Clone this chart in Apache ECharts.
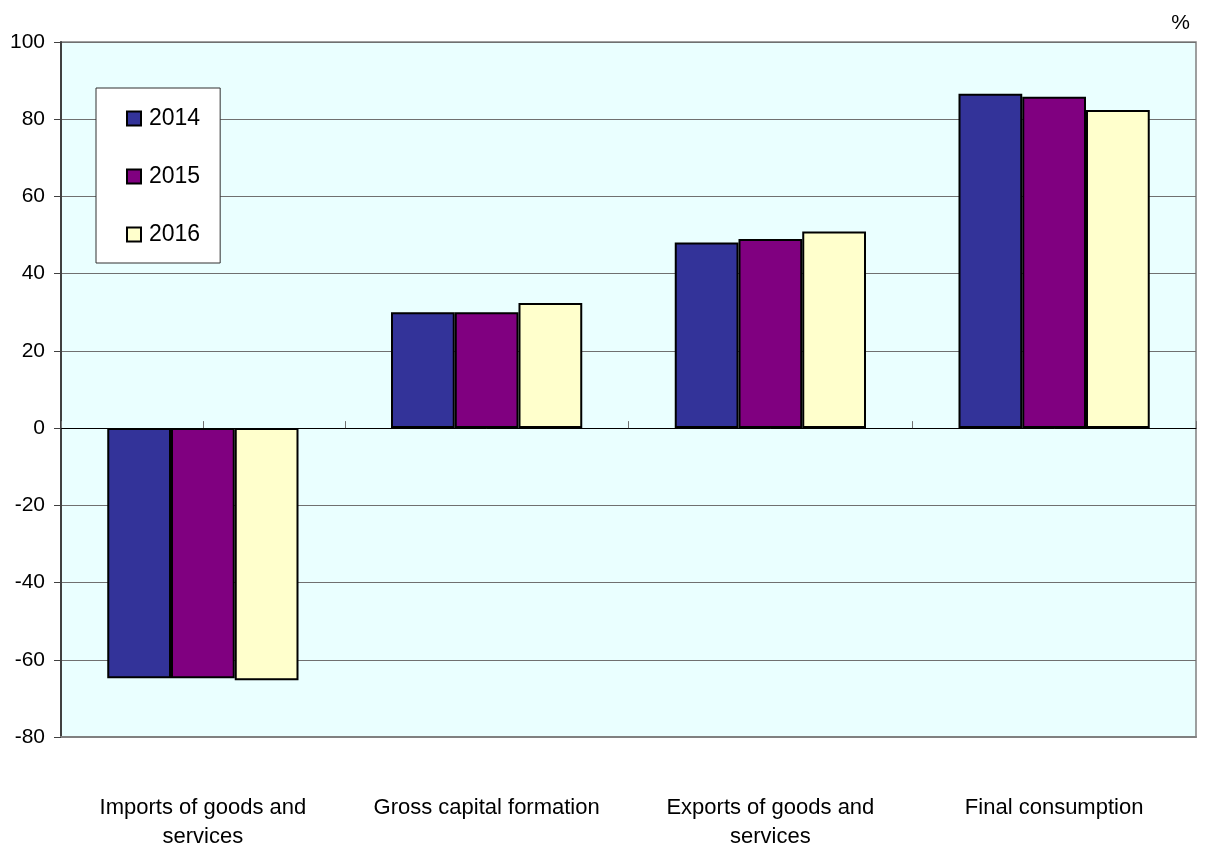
<!DOCTYPE html>
<html>
<head>
<meta charset="utf-8">
<script src="https://cdn.jsdelivr.net/npm/echarts@6/dist/echarts.min.js"></script>
<style>
html,body{margin:0;padding:0;background:#fff;}
#chart{width:1205px;height:851px;}
</style>
</head>
<body>
<div id="chart"></div>
<script>
const categories = ['Imports of goods and\nservices', 'Gross capital formation', 'Exports of goods and\nservices', 'Final consumption'];
const years = ['2014', '2015', '2016'];
const values2014 = [-64.8, 30.0, 48.1, 86.6];
const values2015 = [-64.8, 30.0, 49.0, 85.8];
const values2016 = [-65.3, 32.4, 50.9, 82.4];
const tickSlots = ['', '', '', '', '', '', '', ''];
const yMin = -80, yMax = 100, yStep = 20;

const colors = ['#333399', '#800080', '#FFFFCC'];
const seriesValues = [values2014, values2015, values2016];
const font = 'Liberation Sans';

const chart = echarts.init(document.getElementById('chart'));
chart.setOption({
  animation: false,
  textStyle: { fontFamily: font },
  title: {
    text: '%', right: 10, top: 8,
    textStyle: { fontSize: 21, fontWeight: 'normal', color: '#000', fontFamily: font }
  },
  legend: {
    orient: 'vertical',
    left: 96, top: 88,
    padding: [19, 20, 17, 30],
    itemGap: 35,
    itemWidth: 14, itemHeight: 14,
    icon: 'rect',
    backgroundColor: '#ffffff',
    borderColor: '#303030', borderWidth: 1,
    textStyle: { fontSize: 23, color: '#000', fontFamily: font, padding: [0, 0, 0, 3] },
    data: years
  },
  grid: {
    left: 61, right: 9, top: 42, bottom: 114,
    show: true, backgroundColor: '#EAFFFF',
    borderColor: '#808080', borderWidth: 1.5
  },
  xAxis: [
    {
      type: 'category', data: categories, position: 'bottom',
      axisLine: { onZero: false, lineStyle: { color: '#808080', width: 2 } },
      axisTick: { show: false },
      axisLabel: { margin: 56, fontSize: 22, color: '#000', lineHeight: 29, fontFamily: font, interval: 0 },
      splitLine: { show: false }
    },
    {
      type: 'category', data: tickSlots, position: 'bottom',
      axisLine: { onZero: true, lineStyle: { color: '#000', width: 1.2 } },
      axisTick: { show: true, inside: true, length: 7, lineStyle: { color: '#707070' } },
      axisLabel: { show: false },
      splitLine: { show: false }
    }
  ],
  yAxis: {
    type: 'value', min: yMin, max: yMax, interval: yStep,
    axisLine: { show: true, onZero: false, lineStyle: { color: '#404040', width: 2 } },
    axisTick: { show: true, length: 7, lineStyle: { color: '#404040' } },
    axisLabel: { fontSize: 21, color: '#000', margin: 16, fontFamily: font },
    splitLine: { show: true, lineStyle: { color: '#707070', width: 1.2 } }
  },
  series: years.map((y, i) => ({
    name: y, type: 'bar', xAxisIndex: 0,
    data: seriesValues[i],
    barGap: '0%', barCategoryGap: '32.6%',
    itemStyle: { color: colors[i], borderColor: '#000', borderWidth: 2 }
  }))
});
</script>
</body>
</html>
